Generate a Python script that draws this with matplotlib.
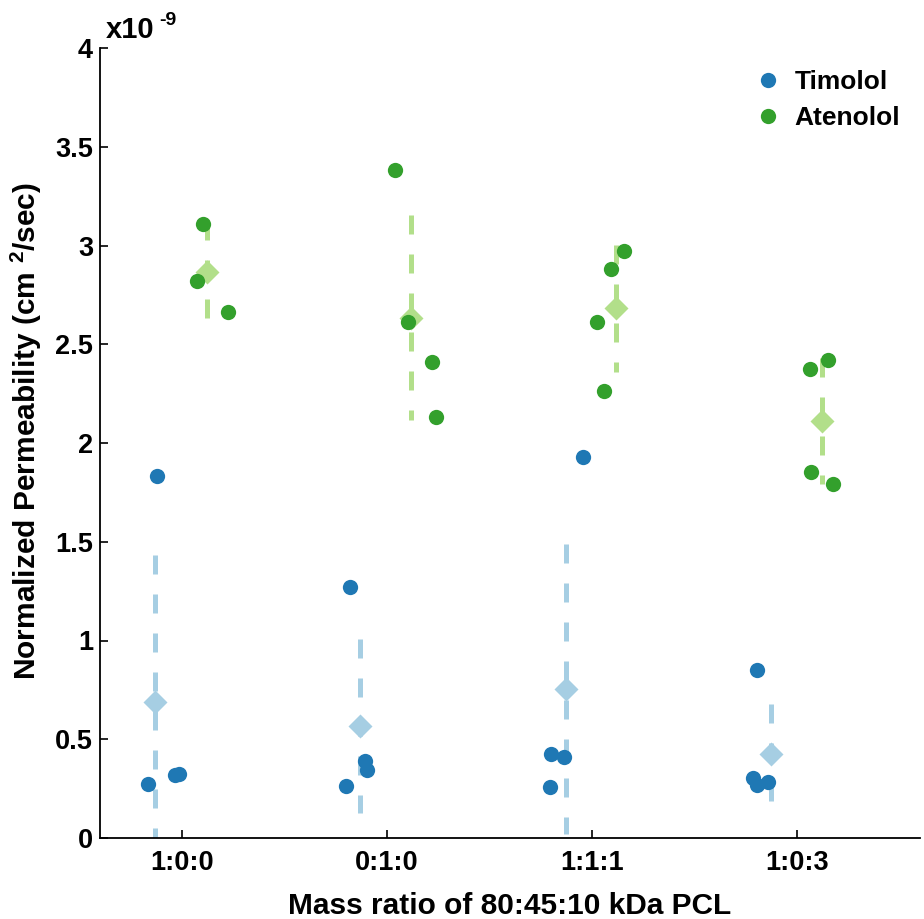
import numpy as np
import matplotlib
matplotlib.use("Agg")
import matplotlib.pyplot as plt
from matplotlib.ticker import FuncFormatter

plt.rcParams['font.family'] = ['Liberation Sans', 'DejaVu Sans']
plt.rcParams['font.weight'] = 'bold'
plt.rcParams['mathtext.fontset'] = 'custom'
plt.rcParams['mathtext.rm'] = 'Liberation Sans:bold'
plt.rcParams['mathtext.bf'] = 'Liberation Sans:bold'
plt.rcParams['mathtext.default'] = 'bf'

# categories (mass ratio of PCL blends)
ratios = ["1:0:0", "0:1:0", "1:1:1", "1:0:3"]

# permeability, units of 1e-9 cm^2/sec, individual samples
timolol_x = [[0.834, 0.966, 0.985, 0.878],
             [1.820, 1.893, 1.902, 1.800],
             [2.956, 2.800, 2.863, 2.793],
             [3.805, 3.785, 3.805, 3.859]]
timolol_y = [[0.273, 0.319, 0.324, 1.833],
             [1.271, 0.390, 0.344, 0.263],
             [1.929, 0.425, 0.410, 0.258],
             [0.851, 0.304, 0.268, 0.284]]

atenolol_x = [[1.102, 1.073, 1.224],
              [2.039, 2.102, 2.220, 2.240],
              [3.156, 3.093, 3.024, 3.059],
              [4.063, 4.151, 4.068, 4.176]]
atenolol_y = [[3.109, 2.820, 2.663],
              [3.382, 2.613, 2.410, 2.132],
              [2.972, 2.881, 2.613, 2.263],
              [2.375, 2.420, 1.853, 1.792]]

# group means and standard deviations
timolol_mean_x = [0.868, 1.868, 2.873, 3.873]
timolol_mean = [0.687, 0.567, 0.756, 0.427]
timolol_sd = [0.745, 0.44, 0.735, 0.25]

atenolol_mean_x = [1.122, 2.117, 3.117, 4.122]
atenolol_mean = [2.864, 2.634, 2.682, 2.110]
atenolol_sd = [0.26, 0.52, 0.32, 0.32]

dark_blue = "#1f78b4"
light_blue = "#a6cee3"
dark_green = "#33a02c"
light_green = "#b2df8a"

fig = plt.figure(figsize=(9.24, 9.19), dpi=100)
ax = fig.add_axes([100 / 924, 81 / 919, 820 / 924, 790 / 919])

dash = (0, (3.8, 4.0))

# error bars (mean +/- sd), drawn from the top down
for mx, m, s in zip(timolol_mean_x, timolol_mean, timolol_sd):
    ax.plot([mx, mx], [m + s, m - s], color=light_blue, lw=3.6, linestyle=dash,
            dash_capstyle='butt', zorder=1)
for mx, m, s in zip(atenolol_mean_x, atenolol_mean, atenolol_sd):
    ax.plot([mx, mx], [m + s, m - s], color=light_green, lw=3.6, linestyle=dash,
            dash_capstyle='butt', zorder=1)

ax.plot(timolol_mean_x, timolol_mean, 'D', color=light_blue, ms=12, mec='none', zorder=2)
ax.plot(atenolol_mean_x, atenolol_mean, 'D', color=light_green, ms=12, mec='none', zorder=2)

for i in range(len(ratios)):
    ax.plot(timolol_x[i], timolol_y[i], 'o', color=dark_blue, ms=11, mec='none', zorder=3,
            label="Timolol" if i == 0 else None)
for i in range(len(ratios)):
    ax.plot(atenolol_x[i], atenolol_y[i], 'o', color=dark_green, ms=11, mec='none', zorder=3,
            label="Atenolol" if i == 0 else None)

ax.set_xlim(0.6, 4.6)
ax.set_ylim(0, 4)
ax.set_xticks(range(1, len(ratios) + 1))
ax.set_xticklabels(ratios)
ax.set_yticks(np.arange(0, 4.01, 0.5))
ax.yaxis.set_major_formatter(FuncFormatter(lambda v, p: "%g" % v))

ax.spines['top'].set_visible(False)
ax.spines['right'].set_visible(False)
for sp in ['left', 'bottom']:
    ax.spines[sp].set_linewidth(1.3)
ax.tick_params(direction='in', length=6, width=1.2, labelsize=19.5)
ax.tick_params(axis='y', pad=5)
ax.tick_params(axis='x', pad=9)

ax.set_xlabel("Mass ratio of 80:45:10 kDa PCL", fontsize=21.5, fontweight='bold', labelpad=11)
ax.set_ylabel("Normalized Permeability (cm $^{2}$/sec)", fontsize=21.5, fontweight='bold')
ax.yaxis.set_label_coords(-0.068, 0.515)

# scale factor written as "x10" with a "-9" superscript
ax.annotate("x10", xy=(0, 1), xycoords='axes fraction', xytext=(4, 3),
            textcoords='offset points', fontsize=21, fontweight='bold',
            ha='left', va='bottom')
ax.annotate("-9", xy=(0, 1), xycoords='axes fraction', xytext=(43, 14),
            textcoords='offset points', fontsize=14, fontweight='bold',
            ha='left', va='bottom')

leg = ax.legend(loc='upper right', bbox_to_anchor=(1.005, 1.002), frameon=False,
                fontsize=19, handletextpad=0.5, labelspacing=0.45,
                handlelength=1.0)

fig.savefig("out.png", dpi=100)
